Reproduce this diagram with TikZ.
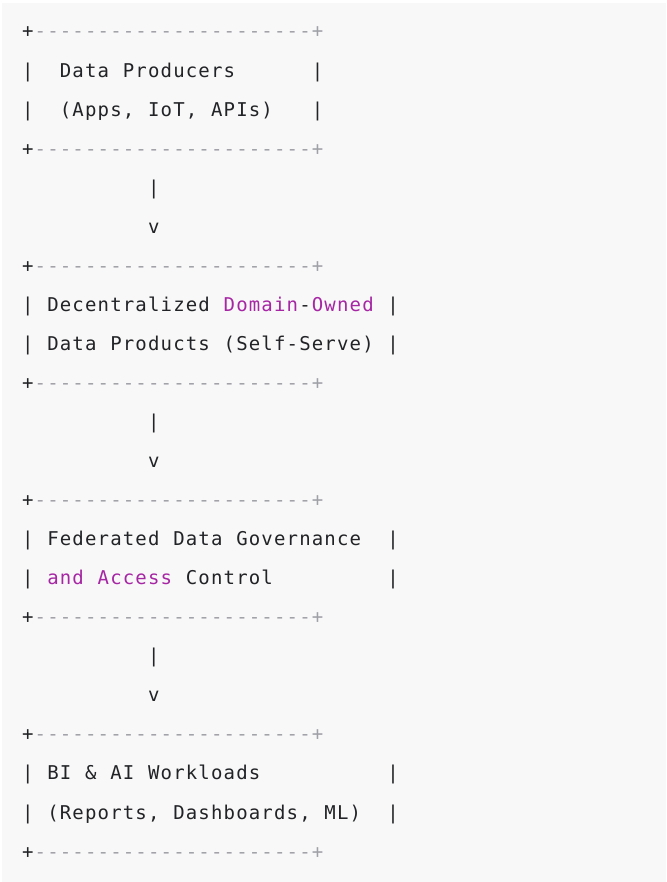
\documentclass[tikz,border=0pt]{standalone}
\usepackage{fontspec}
\setmonofont{DejaVu Sans Mono}
\definecolor{ink}{HTML}{222326}
\definecolor{kw}{HTML}{A626A4}
\definecolor{rule}{HTML}{A0A1A7}
\definecolor{panel}{HTML}{F8F8F8}
% every character sits in a fixed-width cell of the text grid
\newlength\cellw
\setlength\cellw{12.6pt}
\newcommand\gridtext[1]{\gridaux#1\relax}
\def\gridaux#1{\ifx\relax#1\else\makebox[\cellw][c]{#1}\expandafter\gridaux\fi}
\tikzset{
  txt/.style={anchor=base west, inner sep=0pt, outer sep=0pt,
    font=\ttfamily\fontsize{19pt}{22pt}\selectfont, text=ink},
  kwtxt/.style={txt, text=kw},
  ruletxt/.style={txt, text=rule},
}
% a box border: dark corner, then grey dashes and grey corner
\newcommand\border[2]{%
  \node[txt] (#1a) at (0,#2) {\gridtext{+}};
  \node[ruletxt] (#1b) at (1,#2) {\gridtext{----------------------+}};
}
\begin{document}
\begin{tikzpicture}[x=1pt, y=-1pt]
  \useasboundingbox (0,0) rectangle (666,882);
  \fill[white] (0,0) rectangle (666,882);
  \fill[panel] (2,3) rectangle (666,882);
  \begin{scope}[shift={(21.5pt,-38pt)}, x=12.6pt, y=-39.05pt]
    % Box 1
    \border{b1t}{0}
    \node[txt] (b1l1) at (0,1) {\gridtext{|}};
    \node[txt] (b1w1) at (3,1) {\gridtext{Data}};
    \node[txt] (b1w2) at (8,1) {\gridtext{Producers}};
    \node[txt] (b1r1) at (23,1) {\gridtext{|}};
    \node[txt] (b1l2) at (0,2) {\gridtext{|}};
    \node[txt] (b1w3) at (3,2) {\gridtext{(Apps,}};
    \node[txt] (b1w4) at (10,2) {\gridtext{IoT,}};
    \node[txt] (b1w5) at (15,2) {\gridtext{APIs)}};
    \node[txt] (b1r2) at (23,2) {\gridtext{|}};
    \border{b1b}{3}
    \node[txt] (a1s) at (10,4) {\gridtext{|}};
    \node[txt] (a1h) at (10,5) {\gridtext{v}};
    % Box 2
    \border{b2t}{6}
    \node[txt] (b2l1) at (0,7) {\gridtext{|}};
    \node[txt] (b2w1) at (2,7) {\gridtext{Decentralized}};
    \node[kwtxt] (b2w2) at (16,7) {\gridtext{Domain}};
    \node[txt] (b2w3) at (22,7) {\gridtext{-}};
    \node[kwtxt] (b2w4) at (23,7) {\gridtext{Owned}};
    \node[txt] (b2r1) at (29,7) {\gridtext{|}};
    \node[txt] (b2l2) at (0,8) {\gridtext{|}};
    \node[txt] (b2w5) at (2,8) {\gridtext{Data}};
    \node[txt] (b2w6) at (7,8) {\gridtext{Products}};
    \node[txt] (b2w7) at (16,8) {\gridtext{(Self-Serve)}};
    \node[txt] (b2r2) at (29,8) {\gridtext{|}};
    \border{b2b}{9}
    \node[txt] (a2s) at (10,10) {\gridtext{|}};
    \node[txt] (a2h) at (10,11) {\gridtext{v}};
    % Box 3
    \border{b3t}{12}
    \node[txt] (b3l1) at (0,13) {\gridtext{|}};
    \node[txt] (b3w1) at (2,13) {\gridtext{Federated}};
    \node[txt] (b3w2) at (12,13) {\gridtext{Data}};
    \node[txt] (b3w3) at (17,13) {\gridtext{Governance}};
    \node[txt] (b3r1) at (29,13) {\gridtext{|}};
    \node[txt] (b3l2) at (0,14) {\gridtext{|}};
    \node[kwtxt] (b3w4) at (2,14) {\gridtext{and}};
    \node[kwtxt] (b3w5) at (6,14) {\gridtext{Access}};
    \node[txt] (b3w6) at (13,14) {\gridtext{Control}};
    \node[txt] (b3r2) at (29,14) {\gridtext{|}};
    \border{b3b}{15}
    \node[txt] (a3s) at (10,16) {\gridtext{|}};
    \node[txt] (a3h) at (10,17) {\gridtext{v}};
    % Box 4
    \border{b4t}{18}
    \node[txt] (b4l1) at (0,19) {\gridtext{|}};
    \node[txt] (b4w1) at (2,19) {\gridtext{BI}};
    \node[txt] (b4w2) at (5,19) {\gridtext{\&}};
    \node[txt] (b4w3) at (7,19) {\gridtext{AI}};
    \node[txt] (b4w4) at (10,19) {\gridtext{Workloads}};
    \node[txt] (b4r1) at (29,19) {\gridtext{|}};
    \node[txt] (b4l2) at (0,20) {\gridtext{|}};
    \node[txt] (b4w5) at (2,20) {\gridtext{(Reports,}};
    \node[txt] (b4w6) at (12,20) {\gridtext{Dashboards,}};
    \node[txt] (b4w7) at (24,20) {\gridtext{ML)}};
    \node[txt] (b4r2) at (29,20) {\gridtext{|}};
    \border{b4b}{21}
  \end{scope}
\end{tikzpicture}
\end{document}
